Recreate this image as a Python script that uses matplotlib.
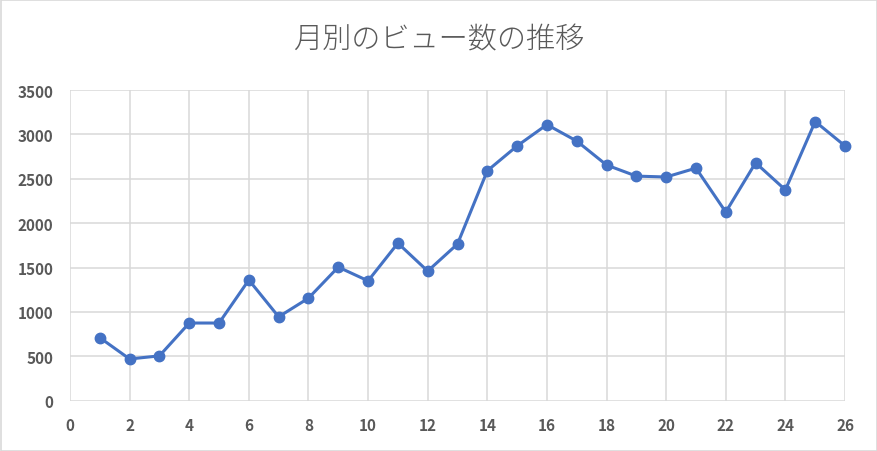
import matplotlib

matplotlib.use("Agg")
import matplotlib.pyplot as plt  # noqa: E402
from matplotlib.patches import Rectangle  # noqa: E402

plt.rcParams["font.family"] = ["Noto Sans CJK JP", "DejaVu Sans"]

# monthly page views
months = list(range(1, 27))
views = [710, 470, 505, 875, 875, 1360, 945, 1155, 1505, 1350, 1775, 1460, 1765,
         2590, 2870, 3110, 2925, 2655, 2530, 2520, 2620, 2125, 2680, 2375, 3145, 2870]
x_ticks = list(range(0, 27, 2))
y_ticks = list(range(0, 3501, 500))

GRID = "#d9d9d9"
TEXT = "#595959"
BLUE = "#4472C4"

fig = plt.figure(figsize=(8.77, 4.52), dpi=100)
ax = fig.add_axes([70 / 877, 1 - 401.7 / 452, 775 / 877, 310.7 / 452])

ax.plot(months, views, color=BLUE, lw=2.2, marker="o", ms=7.5, zorder=3,
        clip_on=False)

ax.set_xlim(0, 26)
ax.set_ylim(0, 3500)
ax.set_xticks(x_ticks)
ax.set_yticks(y_ticks)
ax.grid(True, color=GRID, lw=1.1)
for s in ax.spines.values():
    s.set_visible(False)
ax.tick_params(length=0, colors=TEXT, labelsize=11)
ax.tick_params(axis="x", pad=12)
ax.tick_params(axis="y", pad=12)
for lbl in ax.get_xticklabels() + ax.get_yticklabels():
    lbl.set_fontweight("bold")

fig.text(0.5, 1 - 40 / 452, "月別のビュー数の推移", ha="center", va="center",
         fontsize=21, color=TEXT, fontweight="light")
fig.patches.append(Rectangle((0.5 / 877, 0.5 / 452), 876 / 877, 451 / 452,
                             transform=fig.transFigure, fill=False,
                             edgecolor=GRID, lw=1.2))

fig.savefig("out.png", dpi=100)
plt.close(fig)
